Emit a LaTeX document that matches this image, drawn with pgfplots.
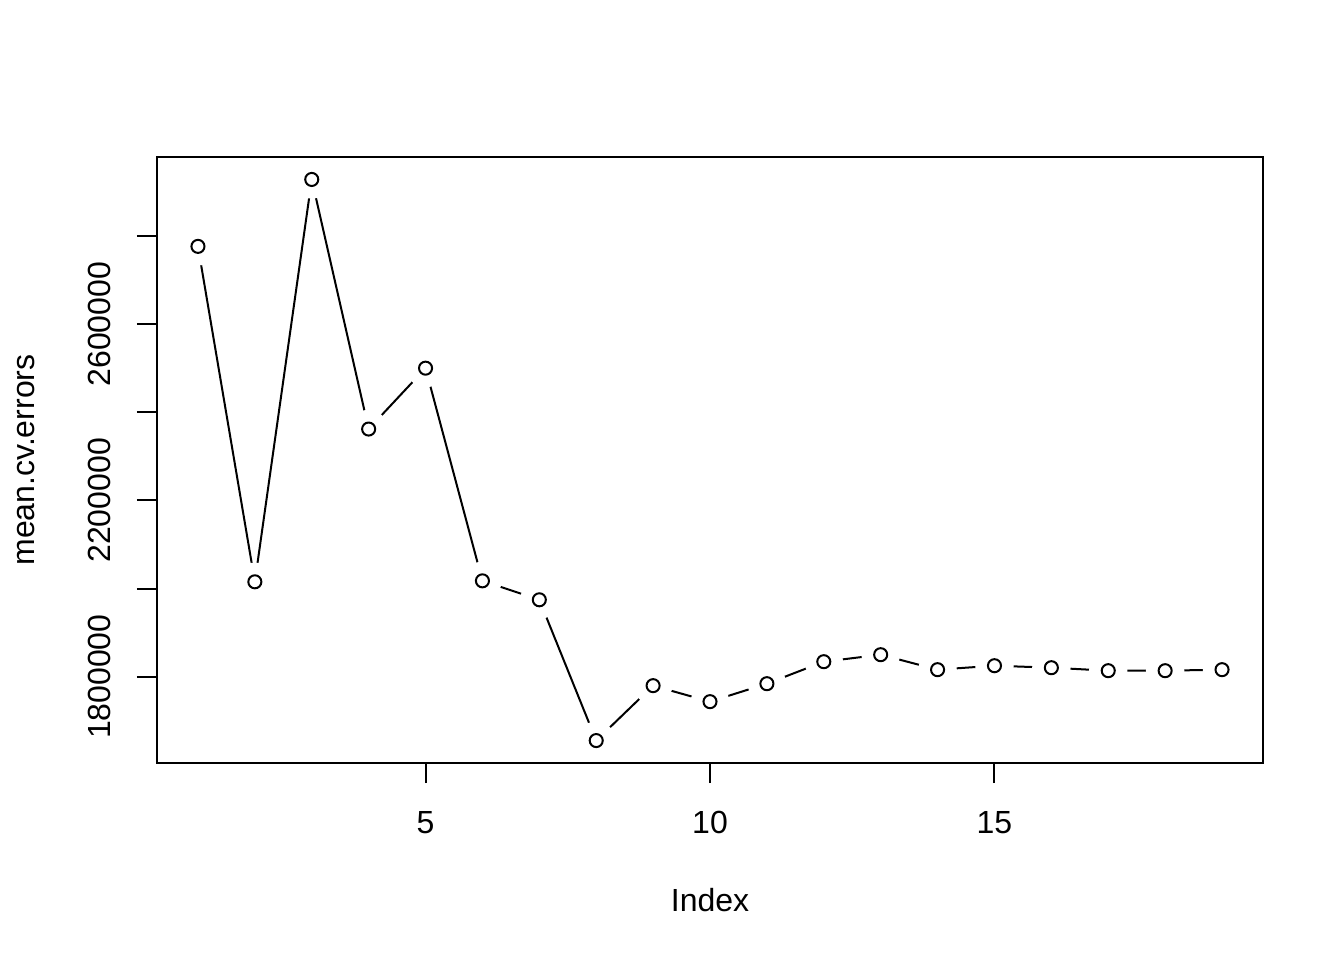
\documentclass[border=0pt]{standalone}
\usepackage{fontspec}
\setmainfont{Liberation Sans}
\usepackage{pgfplots}
\usepackage{pgfplotstable}
\pgfplotsset{compat=1.18}
\pgfplotstableread{
x y
1 2776600
2 2015300
3 2928500
4 2362000
5 2500200
6 2017500
7 1974500
8 1655000
9 1779600
10 1743300
11 1784100
12 1834000
13 1849900
14 1815900
15 1824900
16 1820400
17 1813600
18 1813600
19 1815900
}\cvdata
\begin{document}
\begin{tikzpicture}
\path[use as bounding box] (0,0) rectangle (504pt,360pt);
\begin{axis}[
  at={(58.875pt,73.875pt)}, anchor=south west,
  scale only axis, width=414.75pt, height=227.25pt,
  xmin=0.28, xmax=19.72, ymin=1604060, ymax=2979440,
  xtick={5,10,15}, xticklabels={5,10,15},
  ytick={1800000,2000000,2200000,2400000,2600000,2800000},
  yticklabels={1800000,,2200000,,2600000,},
  scaled y ticks=false, scaled x ticks=false,
  xtick pos=lower, ytick pos=left,
  tick align=outside, major tick length=7.5pt,
  tick style={line width=0.75pt, black},
  axis line style={line width=0.75pt},
  axis on top,
  tick label style={font=\fontsize{12}{14}\selectfont},
  xticklabel style={anchor=base, yshift=-19.1pt},
  yticklabel style={xshift=-9.75pt, rotate=90, anchor=base},
  every axis x label/.style={at={(axis description cs:0.5,0)}, anchor=base, yshift=-55.5pt, font=\fontsize{12}{14}\selectfont},
  every axis y label/.style={at={(axis description cs:0,0.5)}, xshift=-45.75pt, rotate=90, anchor=base, font=\fontsize{12}{14}\selectfont},
  xlabel={Index}, ylabel={mean.cv.errors},
]
\addplot[black, line width=0.75pt, no marks] table[x=x,y=y] {\cvdata};
\addplot[white, only marks, mark=*, mark size=7pt, mark options={fill=white, draw=white}] table[x=x,y=y] {\cvdata};
\addplot[black, only marks, mark=o, mark size=2.45pt, mark options={line width=0.75pt, black, solid}] table[x=x,y=y] {\cvdata};
\end{axis}
\end{tikzpicture}
\end{document}
